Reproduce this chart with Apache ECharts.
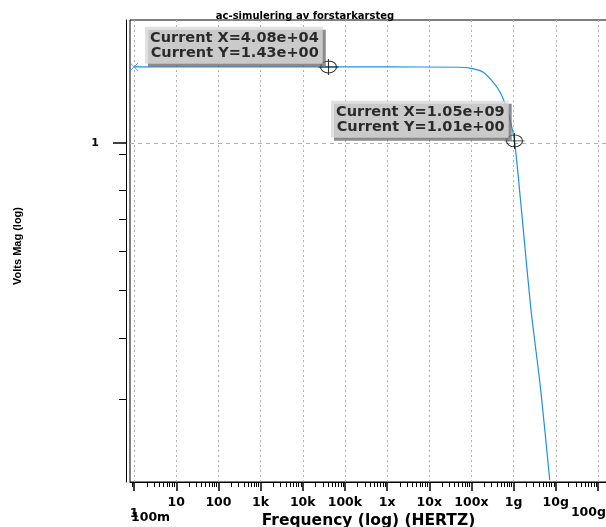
<!DOCTYPE html>
<html>
<head>
<meta charset="utf-8">
<script src="https://cdn.jsdelivr.net/npm/echarts@6/dist/echarts.min.js"></script>
<style>
html,body{margin:0;padding:0;background:#fff;}
#chart{width:606px;height:527px;}
</style>
</head>
<body>
<div id="chart"></div>
<script>
// ---- data ----
const titleText = 'ac-simulering av forstarkarsteg';
const xName = 'Frequency (log) (HERTZ)';
const yName = 'Volts Mag (log)';

const freq = [1, 1e3, 1e6, 5e7, 1e8, 1.9e8, 3.3e8, 4.9e8, 6.1e8, 8e8, 1.05e9, 1.64e9, 2.54e9, 4.4e9, 7.2e9];
const volts = [1.43, 1.43, 1.43, 1.428, 1.42, 1.395, 1.33, 1.265, 1.21, 1.125, 1.01, 0.687, 0.463, 0.313, 0.205];

const cursorX = [4.08e4, 1.05e9];
const cursorY = [1.43, 1.01];

const startX = [1];
const startY = [1.43];

const xTickValues = [1, 10, 100, 1e3, 1e4, 1e5, 1e6, 1e7, 1e8, 1e9, 1e10, 1e11];
const xTickLabels = ['1', '10', '100', '1k', '10k', '100k', '1x', '10x', '100x', '1g', '10g', '100g'];
const xExtraValues = [1];
const xExtraLabels = ['100m'];
const xMinorTicks = [0.9];
for (let d = 0; d <= 10; d++) { for (let k = 2; k <= 9; k++) { xMinorTicks.push(k * Math.pow(10, d)); } }

const yTickValues = [1];
const yTickLabels = ['1'];
const yMinorTicks = [0.95, 0.8, 0.7, 0.6, 0.5, 0.4, 0.3];

const xMin = 0.8, xMax = 1.64e11;
const yMin = 0.2033, yMax = 1.783;

// ---- chart ----
function fmtExp(v) {
  const parts = v.toExponential(2).split('e');
  const e = +parts[1];
  const n = Math.abs(e);
  return parts[0] + 'e' + (e < 0 ? '-' : '+') + (n < 10 ? '0' : '') + n;
}
function xLabel(v) {
  const e = Math.round(Math.log10(v));
  const idx = xTickValues.findIndex(t => Math.round(Math.log10(t)) === e);
  const txt = idx >= 0 ? xTickLabels[idx] : '';
  if (idx === 0) return '{s| }\n{c|' + txt + '}';
  if (idx === xTickValues.length - 1) return '{s2| }\n{g|' + txt + '}';
  return txt;
}
function xExtraLabel(v) {
  const e = Math.round(Math.log10(v));
  const idx = xExtraValues.findIndex(t => Math.round(Math.log10(t)) === e);
  return idx >= 0 ? '{s| }\n{m|' + xExtraLabels[idx] + '}' : '';
}

const font = 'DejaVu Sans';
const blue = '#1e90e8';
const lblFont = {fontFamily: font, fontWeight: 'bold', fontSize: 12.5, color: '#000'};

const chart = echarts.init(document.getElementById('chart'), null, {renderer: 'canvas'});
chart.setOption({
  animation: false,
  backgroundColor: '#fff',
  title: {
    text: titleText,
    left: 300, top: 6, textAlign: 'center',
    textStyle: {fontFamily: font, fontWeight: 'bold', fontSize: 10, color: '#000'}
  },
  grid: {
    left: 130, top: 20, right: -1, bottom: 45,
    show: true, borderColor: '#000', borderWidth: 1, backgroundColor: 'transparent',
    outerBoundsMode: 'none'
  },
  xAxis: [{
    type: 'log', logBase: 10, min: xMin, max: xMax,
    name: xName, nameLocation: 'middle', nameGap: 31, nameMoveOverlap: false,
    nameTextStyle: {fontFamily: font, fontWeight: 'bold', fontSize: 15.5, color: '#000'},
    axisLine: {show: true, lineStyle: {color: '#000', width: 1}},
    axisTick: {show: true, customValues: xTickValues, length: 9, inside: false, lineStyle: {color: '#000', width: 1.5}},
    axisLabel: Object.assign({
      show: true, customValues: xTickValues, margin: 14,
      showMinLabel: true, showMaxLabel: true, hideOverlap: false,
      formatter: xLabel,
      rich: {
        s: Object.assign({lineHeight: 14.5}, lblFont),
        c: Object.assign({lineHeight: 6}, lblFont),
        s2: Object.assign({lineHeight: 9.5}, lblFont),
        g: Object.assign({lineHeight: 14, padding: [0, 19, 0, 0]}, lblFont)
      }
    }, lblFont),
    splitLine: {show: true, lineStyle: {color: '#b0b0b0', width: 1, type: [2, 3]}}
  }, {
    type: 'log', logBase: 10, min: xMin, max: xMax, position: 'bottom', nameMoveOverlap: false,
    axisLine: {show: false},
    axisTick: {show: true, customValues: xMinorTicks, length: 5, lineStyle: {color: '#000', width: 1}},
    axisLabel: Object.assign({
      show: true, customValues: xExtraValues, margin: 14,
      showMinLabel: true, showMaxLabel: true, hideOverlap: false,
      formatter: xExtraLabel,
      rich: {
        s: Object.assign({lineHeight: 20.5}, lblFont),
        m: Object.assign({lineHeight: 2, align: 'left', padding: [0, 0, 0, 33]}, lblFont)
      }
    }, lblFont),
    splitLine: {show: false}
  }],
  yAxis: [{
    type: 'log', logBase: 10, min: yMin, max: yMax, position: 'left', offset: 4,
    name: yName, nameLocation: 'middle', nameRotate: 90, nameGap: 103, nameMoveOverlap: false,
    nameTextStyle: {fontFamily: 'Liberation Sans', fontWeight: 'bold', fontSize: 11, color: '#000', padding: [0, 0, 0, 10]},
    axisLine: {show: true, lineStyle: {color: '#000', width: 1}},
    axisTick: {show: true, customValues: yTickValues, length: 13, lineStyle: {color: '#000', width: 1.5}},
    axisLabel: {
      show: true, customValues: yTickValues, margin: 27,
      showMinLabel: true, showMaxLabel: true,
      fontFamily: font, fontWeight: 'bold', fontSize: 11, color: '#000',
      formatter: function (v) {
        const i = yTickValues.findIndex(t => Math.abs(t - v) < 1e-9 * Math.max(1, t));
        return i >= 0 ? yTickLabels[i] : '';
      }
    },
    splitLine: {show: false}
  }, {
    type: 'log', logBase: 10, min: yMin, max: yMax, position: 'left', offset: 4,
    axisLine: {show: false},
    axisTick: {show: true, customValues: yMinorTicks, length: 7, lineStyle: {color: '#000', width: 1}},
    axisLabel: {show: false},
    splitLine: {show: false}
  }, {
    type: 'log', logBase: 10, min: yMin, max: yMax, position: 'left', offset: 0,
    axisLine: {show: false},
    axisTick: {show: false, customValues: yTickValues},
    axisLabel: {show: false, customValues: yTickValues},
    splitLine: {show: true, lineStyle: {color: '#b0b0b0', width: 1, type: [4, 4]}}
  }],
  series: [{
    type: 'line',
    xAxisIndex: 0, yAxisIndex: 0,
    data: freq.map((f, i) => [f, volts[i]]),
    showSymbol: false, symbol: 'none',
    smooth: 0.25,
    lineStyle: {color: blue, width: 1.2},
    clip: true,
    silent: true
  }, {
    type: 'scatter',
    xAxisIndex: 0, yAxisIndex: 0,
    data: startX.map((x, i) => [x, startY[i]]),
    symbol: 'path://M0,0L8,8M8,0L0,8',
    symbolSize: 8,
    itemStyle: {color: 'none', borderColor: blue, borderWidth: 1},
    silent: true, z: 5
  }, {
    type: 'scatter',
    xAxisIndex: 0, yAxisIndex: 0,
    data: cursorX.map((x, i) => [x, cursorY[i]]),
    symbol: 'path://M-8,0A8,6,0,1,1,8,0A8,6,0,1,1,-8,0M-10,0L10,0M0,-8L0,8',
    symbolSize: [20, 16],
    itemStyle: {color: 'none', borderColor: '#000', borderWidth: 1},
    label: {
      show: true,
      position: [7, 7],
      align: 'right', verticalAlign: 'bottom',
      formatter: function (p) {
        return 'Current X=' + fmtExp(p.value[0]) + '\nCurrent Y=' + fmtExp(p.value[1]);
      },
      fontFamily: font, fontWeight: 'bold', fontSize: 14.5, lineHeight: 15, color: '#000',
      textBorderWidth: 0,
      backgroundColor: '#d9d9d9',
      padding: [4, 4, 3, 5],
      shadowColor: '#6e6e6e', shadowBlur: 0, shadowOffsetX: 3, shadowOffsetY: 3
    },
    silent: true, z: 6
  }]
});
</script>
</body>
</html>
